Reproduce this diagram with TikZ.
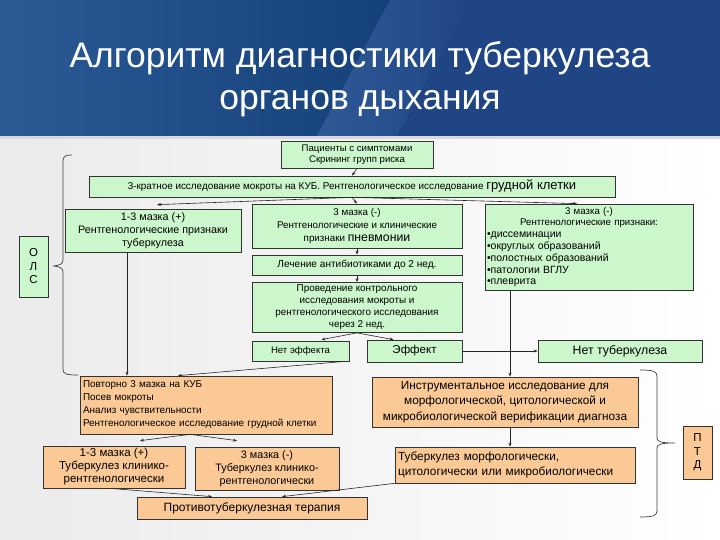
\documentclass[tikz,border=0pt]{standalone}
\usepackage{fontspec}
\setmainfont{Liberation Sans}
\usetikzlibrary{arrows.meta}
\definecolor{gfill}{HTML}{CCF7CC}
\definecolor{ofill}{HTML}{FAC996}
\definecolor{bdr}{HTML}{333333}
\definecolor{hdL}{HTML}{2B5A95}
\definecolor{hdD}{HTML}{15417A}
\definecolor{hdR}{HTML}{1F4585}
\definecolor{hdS}{HTML}{2F5A96}
\tikzset{
  box/.style={draw=bdr, line width=0.7pt, rectangle, inner sep=1pt, align=center, font=\fontsize{9}{12}\selectfont},
  gbox/.style={box, fill=gfill},
  obox/.style={box, fill=ofill},
  arr/.style={-{Stealth[length=4pt,width=3pt]}, line width=0.6pt, draw=black!85},
  brc/.style={line width=0.7pt, draw=black!75},
}
\begin{document}
\begin{tikzpicture}[x=1pt,y=-1pt]
\useasboundingbox (0,0) rectangle (720,540);
% background
\shade[left color=black!8, right color=white] (0,136) rectangle (720,540);
\fill[hdR] (0,0) rectangle (720,136);
\shade[left color=hdL, right color=hdD] (0,0) -- (390,0) -- (317,136) -- (0,136) -- cycle;
\shade[left color=hdS, right color=hdR] (390,0) -- (470,0) -- (397,136) -- (317,136) -- cycle;
\fill[black!15] (0,136) rectangle (720,139);
\node[text=white, font=\fontsize{35.5}{42}\selectfont, align=center] (title) at (360,79) {Алгоритм диагностики туберкулеза\\органов дыхания};

% nodes
\node[gbox, minimum width=152pt, minimum height=27pt, font=\fontsize{9.6}{11.5}\selectfont] (b1) at (357,154.5) {Пациенты с симптомами\\Скрининг групп риска};
\node[gbox, minimum width=526pt, minimum height=21pt, font=\fontsize{9.9}{11}\selectfont] (b2) at (352,186.5) {3-кратное исследование мокроты на КУБ. Рентгенологическое исследование {\fontsize{13}{13}\selectfont грудной клетки}};
\node[gbox, minimum width=176pt, minimum height=43pt, font=\fontsize{10.8}{13}\selectfont] (b3) at (153,230.5) {1-3 мазка (+)\\Рентгенологические признаки\\туберкулеза};
\node[gbox, minimum width=210pt, minimum height=44pt, font=\fontsize{9.8}{13}\selectfont] (b4) at (357,226) {3 мазка (-)\\Рентгенологические и клинические\\признаки {\fontsize{12.3}{13}\selectfont пневмонии}};
\node[gbox, minimum width=208pt, minimum height=86pt, text width=204pt, align=left, font=\fontsize{9.7}{11.8}\selectfont] (b5) at (589,247) {\centering 3 мазка (-)\\Рентгенологические признаки:\par\raggedright\fontsize{10.5}{11.8}\selectfont •диссеминации\\•округлых образований\\•полостных образований\\•патологии ВГЛУ\\•плеврита};
\node[gbox, minimum width=210pt, minimum height=20pt, font=\fontsize{10.1}{12}\selectfont] (b6) at (357,265) {Лечение антибиотиками до 2 нед.};
\node[gbox, minimum width=210pt, minimum height=50pt, font=\fontsize{9.9}{12}\selectfont] (b7) at (357,307.5) {Проведение контрольного\\исследования мокроты и\\рентгенологического исследования\\через 2 нед.};
\node[gbox, minimum width=97pt, minimum height=20pt, font=\fontsize{9.6}{12}\selectfont] (b8) at (300.5,351) {Нет эффекта};
\node[gbox, minimum width=95pt, minimum height=22pt, font=\fontsize{11.5}{13}\selectfont] (b9) at (414.5,351) {Эффект};
\node[gbox, minimum width=164pt, minimum height=22pt, font=\fontsize{12.3}{13}\selectfont] (b10) at (620,351) {Нет туберкулеза};
\node[gbox, minimum width=29pt, minimum height=61pt, font=\fontsize{11.5}{13.5}\selectfont] (ols) at (33.5,266.5) {О\\Л\\С};
\node[obox, minimum width=252pt, minimum height=58pt, text width=246pt, align=left, font=\fontsize{9.9}{13}\selectfont] (b12) at (206,405) {Повторно 3 мазка на КУБ\\Посев мокроты\\Анализ чувствительности\\Рентгенологическое исследование грудной клетки};
\node[obox, minimum width=266pt, minimum height=50pt, font=\fontsize{11.8}{15.5}\selectfont] (b13) at (505,402) {Инструментальное исследование для\\морфологической, цитологической и\\микробиологической верификации диагноза};
\node[obox, minimum width=142pt, minimum height=42pt, font=\fontsize{11.5}{13}\selectfont] (b14) at (114,467) {1-3 мазка (+)\\Туберкулез клинико-\\рентгенологически};
\node[obox, minimum width=144pt, minimum height=43pt, font=\fontsize{10.8}{13}\selectfont] (b15) at (267,468.5) {3 мазка (-)\\Туберкулез клинико-\\рентгенологически};
\node[obox, minimum width=240pt, minimum height=36pt, text width=234pt, align=left, font=\fontsize{11.8}{15}\selectfont] (b16) at (515,465) {Туберкулез морфологически,\\цитологически или микробиологически};
\node[obox, minimum width=230pt, minimum height=22pt, font=\fontsize{12}{13}\selectfont] (b17) at (252,508) {Противотуберкулезная терапия};
\node[obox, minimum width=29pt, minimum height=53pt, font=\fontsize{11.5}{13.5}\selectfont] (ptd) at (697.5,452.5) {П\\Т\\Д};

% connectors
\draw[arr] (b1.south) -- (b2.north);
\draw[arr] (b2.south) -- ([xshift=4pt,yshift=4pt]b3.north);
\draw[arr] (b2.south) -- (b4.north);
\draw[arr] (b2.south) -- ([xshift=-12pt]b5.north);
\draw[arr] (b4.south) -- (b6.north);
\draw[arr] (b6.south) -- (b7.north);
\draw[arr] (b7.south) -- ([xshift=21pt,yshift=1pt]b8.north);
\draw[arr] (b7.south) -- ([xshift=-21pt]b9.north);
\draw[arr] (b9.east) -- (b10.west);
\draw[arr] ([xshift=-79pt]b5.south) -- ([xshift=5pt]b13.north);
\draw[arr] ([xshift=-26pt]b3.south) -- ([xshift=-79pt]b12.north);
\draw[arr] ([xshift=-4pt]b8.south east) -- ([xshift=-28pt]b12.north);
\draw[arr] ([xshift=-16pt]b12.south) -- ([xshift=26pt,yshift=5pt]b14.north);
\draw[arr] ([xshift=-16pt]b12.south) -- ([xshift=-30pt,yshift=6pt]b15.north);
\draw[arr] ([xshift=-4pt]b14.south) -- ([xshift=-40pt]b17.north);
\draw[arr] (b16.south west) -- ([xshift=30pt]b17.north);
\draw[arr] ([xshift=5pt]b13.south) -- ([xshift=-5pt]b16.north);

% braces
\draw[brc] (72,155) .. controls (66,155) and (63,156) .. (63,161) -- (63,260) .. controls (63,264) and (60,265) .. (54,266) .. controls (60,267) and (63,268) .. (63,272) -- (63,369) .. controls (63,374) and (66,375) .. (78,375);
\draw[brc] (640,370) .. controls (652,370) and (657,371) .. (657,376) -- (657,438) .. controls (657,442) and (662,443) .. (675,443) .. controls (662,443) and (657,444) .. (657,448) -- (657,511) .. controls (657,516) and (652,517) .. (640,517);
\end{tikzpicture}
\end{document}
